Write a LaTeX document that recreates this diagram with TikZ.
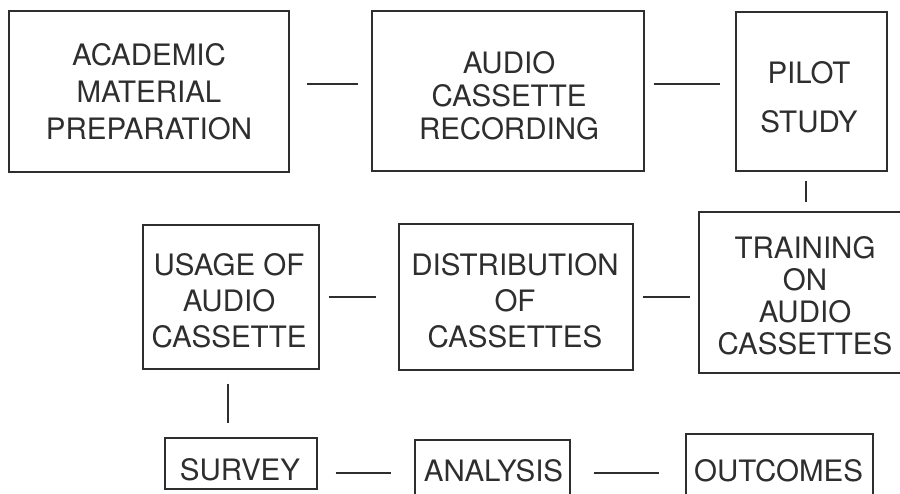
\documentclass[tikz,border=0pt]{standalone}
\usepackage{fontspec}
\setmainfont{TeX Gyre Heros}
\definecolor{ink}{HTML}{2E2E2E}
\begin{document}
\begin{tikzpicture}[x=1pt,y=-1pt,
  box/.style={draw=ink,line width=1.3pt,rectangle,inner sep=0pt},
  lbl/.style={text=ink,align=center,inner sep=0pt,font=\fontsize{29.5}{#1}\selectfont},
  conn/.style={draw=ink,line width=1.6pt}]
\useasboundingbox (0,0) rectangle (900,494);
% row 1
\node[box,minimum width=280pt,minimum height=161pt] (acad) at (149,91.5) {};
\node[lbl=37] (acadT) at (149,92) {ACADEMIC\\MATERIAL\\PREPARATION};
\node[box,minimum width=272pt,minimum height=160pt] (rec) at (508,91) {};
\node[lbl=33] (recT) at (509,96) {AUDIO\\CASSETTE\\RECORDING};
\node[box,minimum width=151pt,minimum height=159pt] (pilot) at (811.5,91.5) {};
\node[lbl=49] (pilotT) at (809,97.5) {PILOT\\STUDY};
% row 2
\node[box,minimum width=176pt,minimum height=144pt] (usage) at (231,297) {};
\node[lbl=36] (usageT) at (229,301) {USAGE OF\\AUDIO\\CASSETTE};
\node[box,minimum width=234pt,minimum height=146pt] (dist) at (516,297) {};
\node[lbl=36] (distT) at (515,301) {DISTRIBUTION\\OF\\CASSETTES};
\node[box,minimum width=208pt,minimum height=161pt] (train) at (803,292.5) {};
\node[lbl=32] (trainT) at (805,296) {TRAINING\\ON\\AUDIO\\CASSETTES};
% row 3
\node[box,minimum width=152pt,minimum height=51pt] (survey) at (241,463.5) {};
\node[lbl=34] (surveyT) at (240,470) {SURVEY};
\node[box,minimum width=155pt,minimum height=80pt] (analysis) at (492.5,480) {};
\node[lbl=34] (analysisT) at (493.5,471) {ANALYSIS};
\node[box,minimum width=187pt,minimum height=86pt] (outcomes) at (779.5,477) {};
\node[lbl=34] (outcomesT) at (778.5,471) {OUTCOMES};
% connectors
\draw[conn] ([xshift=17pt,yshift=7.5pt]acad.east) -- ([xshift=-13pt,yshift=7pt]rec.west);
\draw[conn] ([xshift=9pt,yshift=7pt]rec.east) -- ([xshift=-15pt,yshift=7.5pt]pilot.west);
\draw[conn] ([xshift=-5.5pt,yshift=-9pt]pilot.south) -- ([xshift=3pt,yshift=9pt]train.north);
\draw[conn] ([xshift=9pt]dist.east) -- ([xshift=-8pt,yshift=-4.5pt]train.west);
\draw[conn] ([xshift=9pt]usage.east) -- ([xshift=-22pt]dist.west);
\draw[conn] ([xshift=-3pt,yshift=-14pt]usage.south) -- ([xshift=-13pt,yshift=14pt]survey.north);
\draw[conn] ([xshift=18pt,yshift=-9.5pt]survey.east) -- ([xshift=-23pt,yshift=7pt]analysis.west);
\draw[conn] ([xshift=23pt,yshift=7pt]analysis.east) -- ([xshift=-26pt,yshift=4pt]outcomes.west);
\end{tikzpicture}
\end{document}
